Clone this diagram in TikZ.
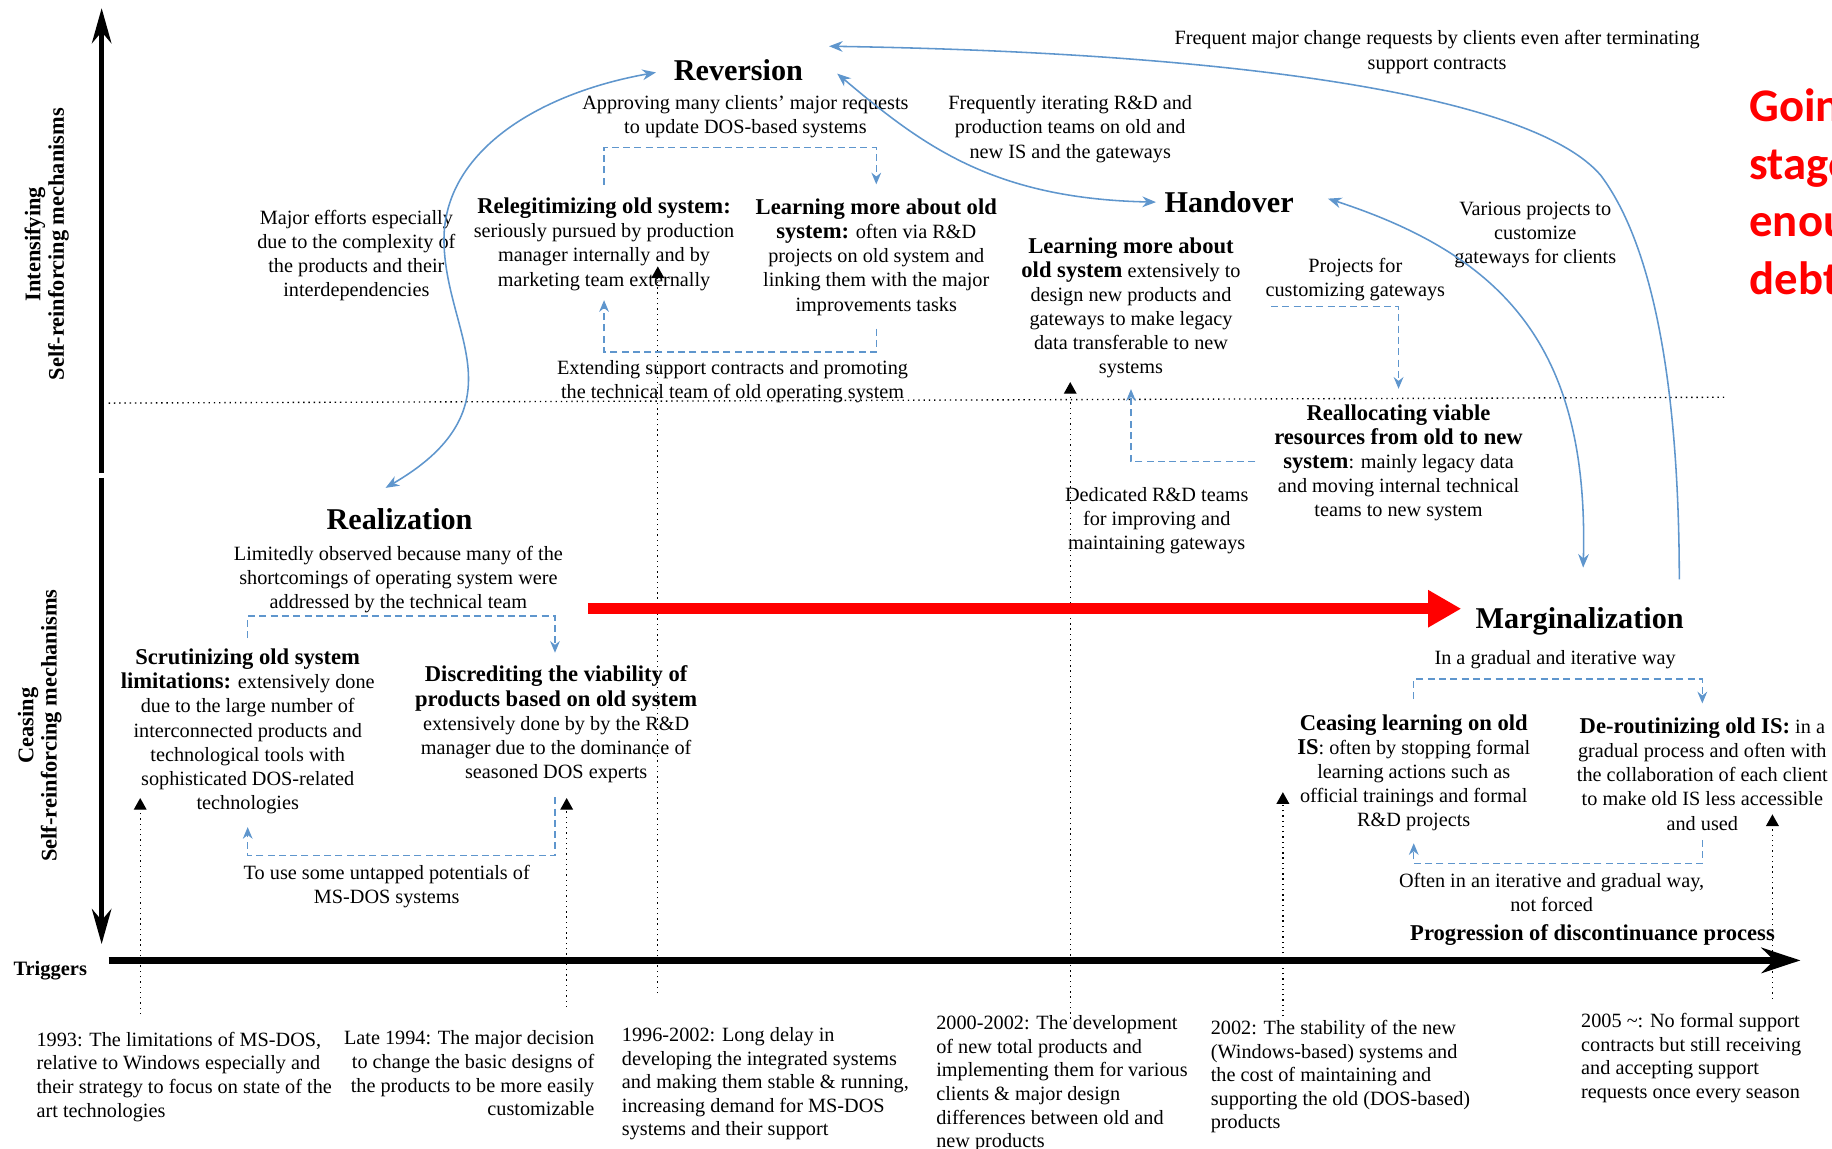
\documentclass[tikz,border=0pt]{standalone}
\usepackage{fontspec}
\setmainfont{Liberation Serif}
\newfontfamily\notefont{Carlito}
\usetikzlibrary{arrows.meta, positioning, calc}

\definecolor{linkblue}{RGB}{95,150,205}
\newcommand{\hd}[1]{{\fontsize{11.6}{12.4}\selectfont\bfseries #1}}

\begin{document}
\begin{tikzpicture}[x=0.6pt,y=-0.6pt]
	\tikzstyle{every node}=[inner sep=0pt]
	\tikzstyle{txt}=[align=center,font=\fontsize{10.4}{12.4}\selectfont]
	\tikzstyle{when}=[align=left,font=\fontsize{10.4}{12.1}\selectfont]
	\tikzstyle{stage}=[font=\fontsize{15.5}{18}\selectfont\bfseries]
	\tikzstyle{side}=[align=center,rotate=90,font=\fontsize{11.5}{12}\selectfont\bfseries]
	\tikzstyle{flow}=[draw=linkblue,line width=0.8pt,>={Stealth[length=7pt,width=5.5pt]}]
	\tikzstyle{dashlink}=[draw=linkblue,line width=0.7pt,dash pattern=on 3.6pt off 2.2pt,->,>={Stealth[length=6pt,width=5pt]}]
	\tikzstyle{trig}=[black,line width=0.7pt,dotted,-{Triangle[length=6pt,width=6.5pt]}]
	
	\useasboundingbox (0,0) rectangle (1568,983);
	\clip (0,0) rectangle (1568,983);
	
	% axes
	\draw[line width=2.4pt,-{Stealth[length=18pt,width=10pt]}] (87,405) -- (87,7);
	\draw[line width=2.4pt,-{Stealth[length=18pt,width=10pt]}] (87,409) -- (87,808);
	\draw[line width=4pt,-{Stealth[length=20pt,width=13pt]}] (93,822) -- (1541,822);
	\draw[dotted,line width=0.7pt] (93,345) -- (1477,340);
	
	\node[side] (upper) at (40,209) {Intensifying\\Self-reinforcing mechanisms};
	\node[side] (lower) at (34,621) {Ceasing\\Self-reinforcing mechanisms};
	\node[font=\fontsize{10.5}{12}\selectfont\bfseries] (trg) at (43,831) {Triggers};
	
	% reversion
	\node[stage] (rev) at (632,60) {Reversion};
	\node[txt] (revnote) at (638,99.5) {Approving many clients' major requests\\to update DOS-based systems};
	\node[txt] (relegit) at (517,209) {\hd{Relegitimizing old system:}\\seriously pursued by production\\manager internally and by\\marketing team externally};
	\node[txt] (learnold) at (750,220) {\hd{Learning more about old}\\\hd{system:} often via R\&D\\projects on old system and\\linking them with the major\\improvements tasks};
	\node[txt] (extend) at (627,326.5) {Extending support contracts and promoting\\the technical team of old operating system};
	\node[txt] (major) at (305,218.5) {Major efforts especially\\due to the complexity of\\the products and their\\interdependencies};
	\node[txt] (itnote) at (916,110.5) {Frequently iterating R\&D and\\production teams on old and\\new IS and the gateways};
	\node[txt] (freqnote) at (1230,44.5) {Frequent major change requests by clients even after terminating\\support contracts};
	
	% handover
	\node[stage] (hand) at (1052,173) {Handover};
	\node[txt] (learnnew) at (968,263.5) {\hd{Learning more about}\\\hd{old system} extensively to\\design new products and\\gateways to make legacy\\data transferable to new\\systems};
	\node[txt] (projnote) at (1160,239.5) {Projects for\\customizing gateways};
	\node[txt] (varnote) at (1314,201) {Various projects to\\customize\\gateways for clients};
	\node[txt] (realloc) at (1197,396) {\hd{Reallocating viable}\\\hd{resources from old to new}\\\hd{system}: mainly legacy data\\and moving internal technical\\teams to new system};
	\node[txt] (dednote) at (990,445.5) {Dedicated R\&D teams\\for improving and\\maintaining gateways};
	
	% realization
	\node[stage] (real) at (342,444) {Realization};
	\node[txt] (limnote) at (341,496) {Limitedly observed because many of the\\shortcomings of operating system were\\addressed by the technical team};
	\node[txt] (scrut) at (212,626) {\hd{Scrutinizing old system}\\\hd{limitations:} extensively done\\due to the large number of\\interconnected products and\\technological tools with\\sophisticated DOS-related\\technologies};
	\node[txt] (discr) at (476,620) {\hd{Discrediting the viability of}\\\hd{products based on old system}\\extensively done by by the R\&D\\manager due to the dominance of\\seasoned DOS experts};
	\node[txt] (usenote) at (331,759) {To use some untapped potentials of\\MS-DOS systems};
	
	% marginalization
	\node[stage] (marg) at (1352,532) {Marginalization};
	\node[txt] (gradnote) at (1331,565) {In a gradual and iterative way};
	\node[txt] (ceasel) at (1210,661.5) {\hd{Ceasing learning on old}\\\hd{IS}: often by stopping formal\\learning actions such as\\official trainings and formal\\R\&D projects};
	\node[txt] (derout) at (1457,662.5) {\hd{De-routinizing old IS:} in a\\gradual process and often with\\the collaboration of each client\\to make old IS less accessible\\and used};
	\node[txt] (oftnote) at (1328,763.5) {Often in an iterative and gradual way,\\not forced};
	\node[font=\fontsize{11.6}{12.4}\selectfont\bfseries] (prog) at (1363,800) {Progression of discontinuance process};
	
	% triggers
	\node[when,anchor=north west] (t1) at (31,883) {1993: The limitations of MS-DOS,\\relative to Windows especially and\\their strategy to focus on state of the\\art technologies};
	\node[when,align=right,anchor=north east] (t2) at (509,882) {Late 1994: The major decision\\to change the basic designs of\\the products to be more easily\\customizable};
	\node[when,anchor=north west] (t3) at (532,879) {1996-2002: Long delay in\\developing the integrated systems\\and making them stable \& running,\\increasing demand for MS-DOS\\systems and their support};
	\node[when,anchor=north west] (t4) at (801,869) {2000-2002: The development\\of new total products and\\implementing them for various\\clients \& major design\\differences between old and\\new products};
	\node[when,anchor=north west] (t5) at (1036,873) {2002: The stability of the new\\(Windows-based) systems and\\the cost of maintaining and\\supporting the old (DOS-based)\\products};
	\node[when,anchor=north west] (t6) at (1353,867) {2005 \textasciitilde: No formal support\\contracts but still receiving\\and accepting support\\requests once every season};
	
	\node[anchor=north west,align=left,text=red,font=\notefont\bfseries\fontsize{24}{29.5}\selectfont] (gonote) at (1497,76) {Going\\stage\\enough\\debt};
	
	\foreach \x/\hi/\lo [count=\i] in {120/683/868, 485/683/862, 563/228/850, 916/327/872, 1098/678/870, 1517/697/855} {
		\coordinate (up\i) at (\x,\hi);
		\coordinate (dn\i) at (\x,\lo);
		\draw[trig] (dn\i) -- (up\i);
	}
	
	\draw[dashlink] ($(relegit.north)+(0,-11)$) -- ++(0,-32) -| ($(learnold.north)+(0,-12)$);
	\draw[dashlink] ($(learnold.south)+(0,11)$) -- ++(0,20) -| ($(relegit.south)+(0,8)$);
	\draw[dashlink] ($(projnote.south west)+(5,4)$) -| ($(realloc.north)+(0,-13)$);
	\draw[dashlink] ($(realloc.west)+(-16,-1)$) -| ($(learnnew.south)+(0,9)$);
	\draw[dashlink] ($(scrut.north)+(0,-9)$) -- ++(0,-19) -| ($(discr.north)+(-1,-11)$);
	\draw[dashlink] ($(discr.south)+(-1,12)$) -- ++(0,50) -| ($(scrut.south)+(0,11)$);
	\draw[dashlink] ($(ceasel.north)+(0,-13)$) -- ++(0,-17) -| ($(derout.north)+(0,-12)$);
	\draw[dashlink] ($(derout.south)+(0,8)$) -- ++(0,20) -| ($(ceasel.south)+(0,10)$);
	
	\draw[flow,<->] ($(rev.west)+(-15,2)$) .. controls (460,80) and (380,130) .. (380,205)
		.. controls (380,260) and (412,305) .. (397,350)
		.. controls (387,380) and (360,400) .. ($(real.north)+(-12,-17)$);
	\draw[flow,<->] ($(rev.east)+(29,3)$) .. controls (790,125) and (850,170) .. ($(hand.west)+(-7,0)$);
	\draw[flow,->] ($(marg.north east)+(-4,-24)$) .. controls (1437,330) and (1415,210) .. (1370,150)
		.. controls (1310,80) and (1050,45) .. ($(rev.north east)+(22,-11)$);
	\draw[flow,<->] ($(hand.east)+(29,-3)$) .. controls (1290,220) and (1360,300) .. ($(marg.north)+(3,-34)$);
	
	\draw[red,line width=5.5pt,-{Triangle[length=17pt,width=18pt]}] ($(limnote.east)+(21,25)$) -- ($(marg.west)+(-12,-11)$);
\end{tikzpicture}
\end{document}
